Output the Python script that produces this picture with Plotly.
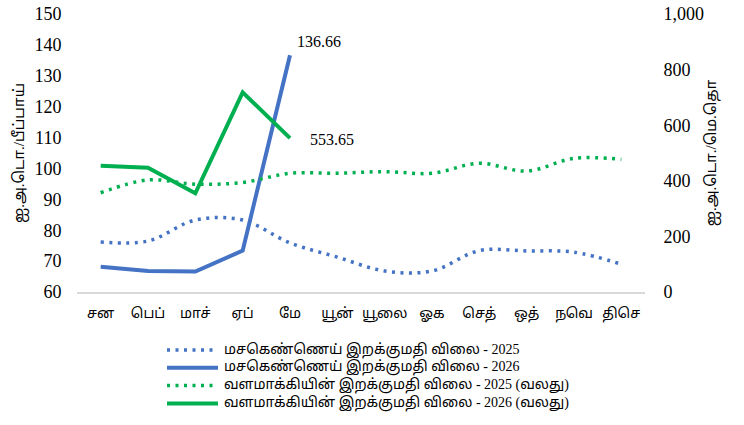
import plotly.graph_objects as go

months = ['சன', 'பெப்', 'மாச்', 'ஏப்', 'மே', 'யூன்', 'யூலை', 'ஓக', 'செத்', 'ஒத்', 'நவெ', 'திசெ']

kero_2025 = [76.2, 76.5, 83.3, 83.3, 75.9, 71.3, 66.8, 66.8, 73.4, 73.3, 72.9, 69.0]
kero_2026 = [68.2, 66.8, 66.6, 73.4, 136.66]
fert_2025 = [357, 403, 388, 394, 427, 427, 433, 427, 463, 435, 481, 477]
fert_2026 = [454, 447, 355, 718, 553.65]

names = [
    'மசகெண்ணெய் இறக்குமதி விலை - 2025',
    'மசகெண்ணெய் இறக்குமதி விலை - 2026',
    'வளமாக்கியின் இறக்குமதி விலை - 2025 (வலது)',
    'வளமாக்கியின் இறக்குமதி விலை - 2026 (வலது)',
]

BLUE = '#4472C4'
GREEN = '#00B050'
FONT = ('Liberation Serif, Noto Sans Tamil, Noto Serif Tamil, Lohit Tamil, '
        'FreeSerif, Noto Sans, DejaVu Sans')
DOT = '3px,5.5px'

W, H = 744, 425
L, R, T, B = 77, 99, 14, 133
pw, ph = W - L - R, H - T - B


def px_x(x):
    # x in pixels -> paper coords
    return (x - L) / pw


def px_y(y):
    return (H - B - y) / ph


styles = [
    dict(color=BLUE, width=3.5, dash=DOT),
    dict(color=BLUE, width=4),
    dict(color=GREEN, width=3.5, dash=DOT),
    dict(color=GREEN, width=4),
]

fig = go.Figure()
fig.add_trace(go.Scatter(x=months, y=kero_2025, name=names[0], mode='lines',
                         line=dict(styles[0], shape='spline')))
fig.add_trace(go.Scatter(x=months[:5], y=kero_2026, name=names[1], mode='lines',
                         line=styles[1]))
fig.add_trace(go.Scatter(x=months, y=fert_2025, name=names[2], mode='lines', yaxis='y2',
                         line=dict(styles[2], shape='spline')))
fig.add_trace(go.Scatter(x=months[:5], y=fert_2026, name=names[3], mode='lines', yaxis='y2',
                         line=styles[3]))

# end-point value labels
fig.add_annotation(x=months[4], y=kero_2026[-1], text=f'{kero_2026[-1]:.2f}', showarrow=False,
                   xanchor='left', yanchor='middle', xshift=5, yshift=14,
                   font=dict(family=FONT, size=16, color='#000'))
fig.add_annotation(x=months[4], y=fert_2026[-1], yref='y2', text=f'{fert_2026[-1]:.2f}',
                   showarrow=False, xanchor='left', yanchor='middle', xshift=18, yshift=-1,
                   font=dict(family=FONT, size=16, color='#000'))

# legend drawn by hand so the spacing matches
for i, (nm, st) in enumerate(zip(names, styles)):
    yc = 350 + 17.8 * i
    fig.add_shape(type='line', xref='paper', yref='paper',
                  x0=px_x(167), x1=px_x(218), y0=px_y(yc), y1=px_y(yc), line=st)
    fig.add_annotation(xref='paper', yref='paper', x=px_x(222), y=px_y(yc),
                       text=nm, showarrow=False,
                       xanchor='left', yanchor='middle',
                       font=dict(family=FONT, size=14, color='#000'))

fig.update_layout(
    width=W, height=H,
    margin=dict(l=L, r=R, t=T, b=B),
    paper_bgcolor='white', plot_bgcolor='white',
    font=dict(family=FONT, color='#000'),
    showlegend=False,
    xaxis=dict(range=[-0.5, 11.5], showline=True, linecolor='#D9D9D9', linewidth=1.5,
               ticks='outside', ticklen=7, tickcolor='rgba(0,0,0,0)',
               showgrid=False, tickfont=dict(size=14), zeroline=False, automargin=False),
    yaxis=dict(range=[60, 150], dtick=10, showgrid=False, zeroline=False,
               tickfont=dict(size=18), ticks='outside', ticklen=11,
               tickcolor='rgba(0,0,0,0)', automargin=False, ticklabeloverflow='allow',
               title=dict(text='ஐ.அ.டொ./பீப்பாய்', font=dict(size=15), standoff=6)),
    yaxis2=dict(range=[0, 1000], dtick=200, overlaying='y', side='right',
                showgrid=False, zeroline=False, tickformat=',',
                ticks='outside', ticklen=14, tickcolor='rgba(0,0,0,0)', automargin=False,
                ticklabeloverflow='allow', tickfont=dict(size=18),
                title=dict(text='ஐ.அ.டொ./மெ.தொ', font=dict(size=15), standoff=2)),
)

# drop the default page margin so the figure fills the window
fig.write_html('out.html', config={'displayModeBar': False},
               post_script="document.body.style.margin='0';")
